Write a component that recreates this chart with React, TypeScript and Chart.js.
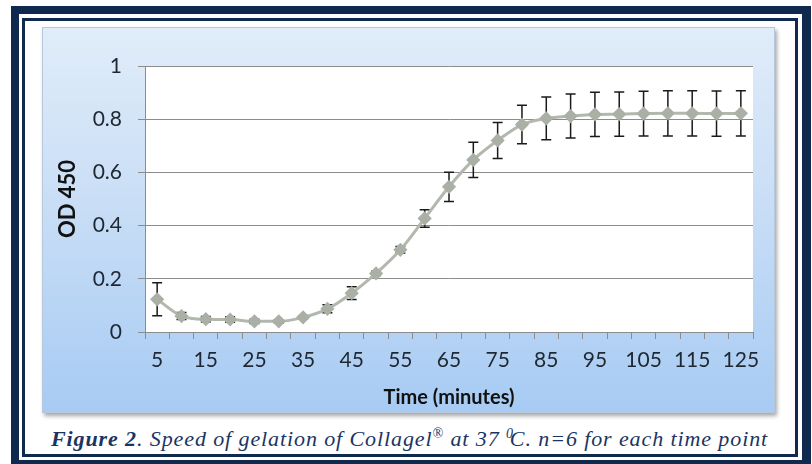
import React, { useEffect, useRef } from "react";
import { Chart, registerables } from "chart.js";

Chart.register(...registerables);

const times = ["5", "10", "15", "20", "25", "30", "35", "40", "45", "50", "55", "60", "65", "70", "75", "80", "85", "90", "95", "100", "105", "110", "115", "120", "125"];
const means = [0.123, 0.060, 0.048, 0.047, 0.040, 0.040, 0.055, 0.087, 0.146, 0.220, 0.309, 0.427, 0.546, 0.647, 0.720, 0.780, 0.803, 0.812, 0.818, 0.819, 0.821, 0.822, 0.822, 0.821, 0.822];
const errors = [0.062, 0.013, 0.010, 0.010, 0.008, 0.006, 0.006, 0.015, 0.024, 0.008, 0.012, 0.033, 0.055, 0.066, 0.068, 0.072, 0.080, 0.083, 0.083, 0.083, 0.084, 0.085, 0.085, 0.085, 0.085];
const yTicks = [0, 0.2, 0.4, 0.6, 0.8, 1];

const NAVY = "#10294f";
const FONT = "Lato, 'Open Sans', sans-serif";

const plotBg = {
  id: "plotBg",
  beforeDraw(chart: any) {
    const { ctx, chartArea } = chart;
    ctx.save();
    ctx.fillStyle = "#ffffff";
    ctx.fillRect(chartArea.left, chartArea.top, chartArea.right - chartArea.left, chartArea.bottom - chartArea.top);
    ctx.restore();
  },
};

const errorBars = {
  id: "errorBars",
  beforeDatasetsDraw(chart: any) {
    const { ctx, scales } = chart;
    const xs = scales.x;
    const ys = scales.y;
    ctx.save();
    ctx.strokeStyle = "#1a1a1a";
    ctx.lineWidth = 1.5;
    const cap = 5;
    means.forEach((m, i) => {
      const x = xs.getPixelForValue(i);
      const yt = ys.getPixelForValue(m + errors[i]);
      const yb = ys.getPixelForValue(m - errors[i]);
      ctx.beginPath();
      ctx.moveTo(x, yt);
      ctx.lineTo(x, yb);
      ctx.moveTo(x - cap, yt);
      ctx.lineTo(x + cap, yt);
      ctx.moveTo(x - cap, yb);
      ctx.lineTo(x + cap, yb);
      ctx.stroke();
    });
    ctx.restore();
  },
};

function ChartView() {
  const ref = useRef<HTMLCanvasElement | null>(null);
  useEffect(() => {
    if (!ref.current) return;
    const chart = new Chart(ref.current, {
      type: "line",
      data: {
        labels: times,
        datasets: [
          {
            data: means,
            borderColor: "#b3b8ae",
            borderWidth: 3,
            backgroundColor: "#aab0a5",
            pointBackgroundColor: "#aab0a5",
            pointBorderColor: "#aab0a5",
            pointStyle: "rectRot",
            pointRadius: 5,
            cubicInterpolationMode: "monotone",
            fill: false,
          },
        ],
      },
      options: {
        responsive: false,
        animation: false,
        devicePixelRatio: 1,
        layout: { padding: { top: 39, right: 22, left: 0, bottom: 0 } },
        plugins: { legend: { display: false }, tooltip: { enabled: false } },
        scales: {
          x: {
            type: "category",
            offset: true,
            afterFit: (s: any) => { s.height = 81; },
            grid: { display: true, drawOnChartArea: false, drawTicks: true, tickLength: 7, color: "#8c8c8c", offset: true },
            border: { color: "#8c8c8c" },
            ticks: {
              autoSkip: false,
              maxRotation: 0,
              padding: 9,
              color: "#1f2733",
              font: { family: FONT, size: 21 },
              callback: (_v: any, i: number) => (i % 2 === 0 ? times[i] : ""),
            },
            title: {
              display: true,
              text: "Time (minutes)",
              color: "#111",
              font: { family: FONT, size: 20, weight: "bold" },
              padding: { top: 0, bottom: 3 },
            },
          },
          y: {
            min: 0,
            max: 1,
            afterFit: (s: any) => { s.width = 103; },
            afterBuildTicks: (s: any) => { s.ticks = yTicks.map((v) => ({ value: v })); },
            grid: { color: "#8c8c8c", tickLength: 7, drawTicks: true },
            border: { color: "#8c8c8c" },
            ticks: {
              padding: 16,
              color: "#1f2733",
              font: { family: FONT, size: 21 },
              callback: (v: any) => String(Math.round(Number(v) * 10) / 10),
            },
            title: {
              display: true,
              text: "OD 450",
              color: "#111",
              font: { family: FONT, size: 22, weight: "bold" },
              padding: { top: 13, bottom: 0 },
            },
          },
        },
      },
      plugins: [plotBg, errorBars],
    } as any);
    return () => chart.destroy();
  }, []);
  return <canvas ref={ref} width={733} height={386} style={{ display: "block", width: 733, height: 386 }} />;
}

export default function App() {
  return (
    <div style={{ position: "fixed", left: 0, top: 0, width: 812, height: 464, background: "#fff", overflow: "hidden" }}>
      <div style={{ position: "absolute", left: 11, top: 6, width: 800, height: 470, background: NAVY }} />
      <div style={{ position: "absolute", left: 19, top: 14, width: 783, height: 446, background: "#fff" }} />
      <div style={{ position: "absolute", left: 22, top: 18, width: 776, height: 439, border: `3px solid ${NAVY}`, boxSizing: "border-box", background: "#fff" }} />
      <div
        style={{
          position: "absolute",
          left: 42,
          top: 27,
          width: 733,
          height: 386,
          background: "linear-gradient(to bottom, #e0ecf9 0%, #c9def6 45%, #a7cbf3 100%)",
          boxShadow: "2px 3px 4px rgba(0,0,0,0.35)",
          border: "1px solid #b8c8dc",
          boxSizing: "border-box",
        }}
      >
        <div style={{ position: "absolute", left: -1, top: -1 }}>
          <ChartView />
        </div>
      </div>
      <div
        style={{
          position: "absolute",
          left: 25,
          width: 769,
          top: 427,
          height: 26,
          lineHeight: "24px",
          textAlign: "center",
          fontFamily: "'Liberation Serif', 'DejaVu Serif', serif",
          fontStyle: "italic",
          fontSize: 22,
          letterSpacing: "0.9px",
          color: "#1a3563",
          whiteSpace: "nowrap",
        }}
      >
        <b>Figure 2</b>. Speed of gelation of Collagel<sup style={{ fontSize: 14, lineHeight: 0 }}>®</sup> at 37 <sup style={{ fontSize: 14, lineHeight: 0, marginRight: -4 }}>0</sup>C. n=6 for each time point
      </div>
    </div>
  );
}
